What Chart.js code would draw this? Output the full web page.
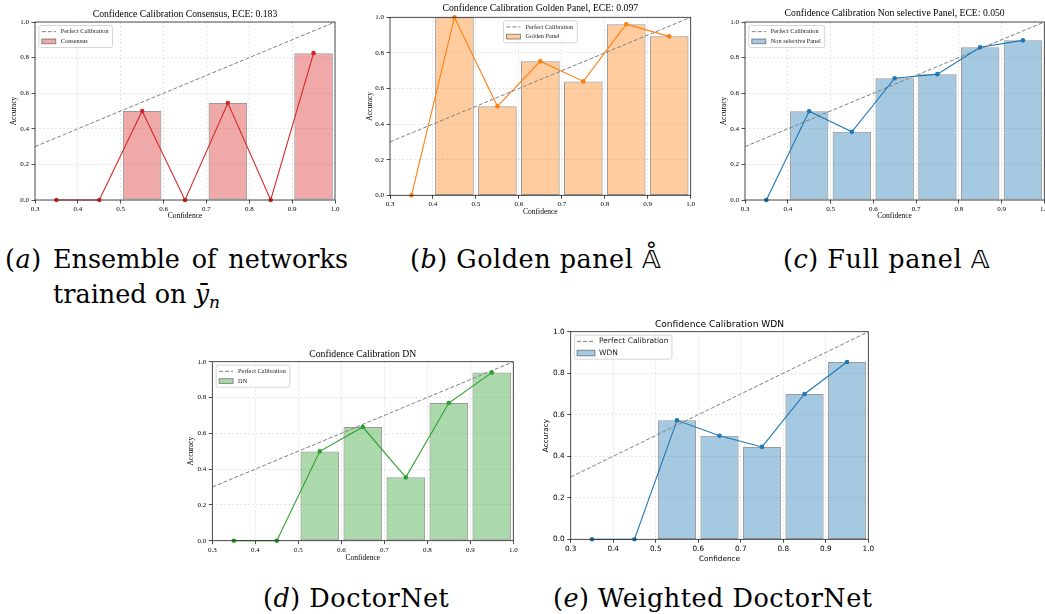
<!DOCTYPE html>
<html>
<head>
	<meta charset="utf-8">
	<title>Confidence Calibration</title>
	<script src="https://cdn.jsdelivr.net/npm/chart.js@4.4.1/dist/chart.umd.min.js"></script>
	<style type="text/css">
		html, body { margin: 0; padding: 0; background: #fff; overflow: hidden; }
		#page { position: relative; width: 1045px; height: 614px; overflow: hidden; }
		#page canvas { position: absolute; }
		.cap { position: absolute; font-family: "DejaVu Serif", "Liberation Serif", serif; font-size: 25.5px; letter-spacing: 0.5px; line-height: 35px; color: #000; white-space: nowrap; }
		.cap i { font-style: italic; }
		.wrap { white-space: normal; text-align: justify; letter-spacing: 0; }
		.cap sub { font-size: 17px; font-style: italic; line-height: 0; vertical-align: -5px; }
		.dbl { font-family: "DejaVu Sans", "DejaVu Serif", sans-serif; }
	</style>
</head>
<body>
	<div id="page">
		<div class="cap" style="left:5px;top:242px">(<i>a</i>)</div>
		<div class="cap wrap" style="left:53px;top:242px;width:295px">Ensemble of networks trained on <i>ȳ</i><sub>n</sub></div>
		<div class="cap" style="left:410px;top:242px">(<i>b</i>) Golden panel <span class="dbl">𝔸̊</span></div>
		<div class="cap" style="left:783px;top:242px">(<i>c</i>) Full panel <span class="dbl">𝔸</span></div>
		<div class="cap" style="left:263px;top:581px">(<i>d</i>) DoctorNet</div>
		<div class="cap" style="left:553px;top:581px">(<i>e</i>) Weighted DoctorNet</div>
	</div>

	<script type="text/javascript">
	// bin centres and axis ticks shared by every reliability diagram
	var bins = [0.35, 0.45, 0.55, 0.65, 0.75, 0.85, 0.95];
	var xTicks = [0.3, 0.4, 0.5, 0.6, 0.7, 0.8, 0.9, 1.0];
	var yTicks = [0.0, 0.2, 0.4, 0.6, 0.8, 1.0];
	var perfect = [0.3, 1.0];

	// accuracy per bin
	var accConsensus = [0, 0, 0.50, 0, 0.545, 0, 0.825];
	var accGolden = [0, 1.0, 0.50, 0.753, 0.64, 0.961, 0.893];
	var accNonSel = [0, 0.499, 0.383, 0.684, 0.707, 0.858, 0.897];
	var accDN = [0, 0, 0.499, 0.635, 0.354, 0.769, 0.939];
	var accWDN = [0, 0, 0.573, 0.499, 0.445, 0.70, 0.854];

	var names = ["Consensus", "Golden Panel", "Non selective Panel", "DN", "WDN"];
	var eces = ["0.183", "0.097", "0.050", null, null];

	var SERIF = "'Liberation Serif', 'Times New Roman', serif";
	var SANS = "'DejaVu Sans', sans-serif";

	// where each plot box sits on the page, plus fonts
	var panels = [
		{ acc: accConsensus, col: [214, 39, 40], x0: 35, y0: 22, x1: 335, y1: 200, tGap: 7.3, yGap: 21, xGap: 16.5, font: SERIF, tSize: 9.7, lSize: 7.5, kSize: 7, legend: "left" },
		{ acc: accGolden, col: [255, 127, 14], x0: 390, y0: 17.3, x1: 690.7, y1: 195.3, tGap: 8, yGap: 20, xGap: 16.7, font: SERIF, tSize: 9.7, lSize: 7.5, kSize: 7, legend: "center" },
		{ acc: accNonSel, col: [31, 119, 180], x0: 745, y0: 22, x1: 1044.3, y1: 200, tGap: 8, yGap: 20.7, xGap: 16.5, font: SERIF, tSize: 9.7, lSize: 7.5, kSize: 7, legend: "left" },
		{ acc: accDN, col: [44, 160, 44], x0: 212.3, y0: 361.7, x1: 513.3, y1: 540.7, tGap: 6.7, yGap: 20.6, xGap: 17.6, font: SERIF, tSize: 9.7, lSize: 7.5, kSize: 7, legend: "left" },
		{ acc: accWDN, col: [31, 119, 180], x0: 570.7, y0: 331.7, x1: 868.3, y1: 539.3, tGap: 7.7, yGap: 24.7, xGap: 19.7, font: SANS, tSize: 9.1, lSize: 7.3, kSize: 7.3, legend: "left" }
	];

	Chart.defaults.color = "#000";

	// matplotlib style spines on all four sides
	var frame = {
		id: "frame",
		afterDatasetsDraw: function (chart) {
			var a = chart.chartArea, ctx = chart.ctx;
			ctx.save();
			ctx.strokeStyle = "#222";
			ctx.lineWidth = 0.8;
			ctx.strokeRect(a.left, a.top, a.right - a.left, a.bottom - a.top);
			ctx.restore();
		}
	};

	// framed legend with a dashed line sample and a patch sample
	var legendBox = {
		id: "legendBox",
		afterDraw: function (chart, args, o) {
			var ctx = chart.ctx, a = chart.chartArea;
			ctx.save();
			ctx.font = o.size + "px " + o.family;
			var tw = Math.max(ctx.measureText(o.lineText).width, ctx.measureText(o.patchText).width);
			var w = o.pad + o.sample + o.gap + tw + o.pad + 1;
			var h = o.rowH * 2 + o.padY * 2;
			var x = o.pos === "center" ? (a.left + a.right) / 2 - w / 2 : a.left + 3.8;
			var y = a.top + 3.5;
			ctx.beginPath();
			ctx.roundRect(x, y, w, h, 2);
			ctx.fillStyle = "rgba(255,255,255,0.8)";
			ctx.fill();
			ctx.strokeStyle = "#ccc";
			ctx.lineWidth = 0.8;
			ctx.stroke();
			var r1 = y + o.padY + o.rowH / 2, r2 = r1 + o.rowH;
			var sx = x + o.pad;
			ctx.beginPath();
			ctx.setLineDash([4, 2]);
			ctx.strokeStyle = "#808080";
			ctx.lineWidth = 1;
			ctx.moveTo(sx, r1);
			ctx.lineTo(sx + o.sample, r1);
			ctx.stroke();
			ctx.setLineDash([]);
			var ph = o.size * 0.75;
			ctx.fillStyle = o.fill;
			ctx.fillRect(sx, r2 - ph / 2, o.sample, ph);
			ctx.strokeStyle = "rgba(0,0,0,0.4)";
			ctx.strokeRect(sx, r2 - ph / 2, o.sample, ph);
			ctx.fillStyle = "#222";
			ctx.textBaseline = "middle";
			ctx.fillText(o.lineText, sx + o.sample + o.gap, r1);
			ctx.fillText(o.patchText, sx + o.sample + o.gap, r2);
			ctx.restore();
		}
	};

	function makePanel(p, i) {
		var page = document.getElementById("page");
		var canvas = document.createElement("canvas");
		var LH = p.tSize * 1.2, LA = p.lSize * 1.2;
		var left = Math.round(p.x0 - p.yGap - LA / 2);
		var top = Math.round(p.y0 - 2 - p.tGap - LH / 2);
		var wy = p.x0 - left;
		var head = p.y0 - top;
		var W = Math.round(p.x1 - left + 8);
		var H = Math.round(p.y1 - top + p.xGap + LA / 2);
		var hx = H - (p.y1 - top);
		canvas.width = W;
		canvas.height = H;
		canvas.style.left = left + "px";
		canvas.style.top = top + "px";
		page.appendChild(canvas);

		var line = "rgb(" + p.col.join(",") + ")";
		var fill = "rgba(" + p.col.join(",") + ",0.4)";
		var pts = bins.map(function (b, k) { return { x: b, y: p.acc[k] }; });
		var diag = perfect.map(function (v) { return { x: v, y: v }; });
		var title = "Confidence Calibration " + names[i] + (eces[i] ? ", ECE: " + eces[i] : "");
		var grid = { color: "rgba(0,0,0,0.13)", lineWidth: 0.8, offset: false, tickColor: "#222", tickLength: 3.5, tickWidth: 0.8 };
		var border = { display: false, dash: [2, 2] };

		new Chart(canvas, {
			type: "bar",
			data: {
				datasets: [
					{ type: "line", label: names[i], data: pts, borderColor: line, backgroundColor: line, borderWidth: 1.1, pointRadius: 2.3, pointHoverRadius: 2.3, pointBorderWidth: 0, clip: false, order: 0 },
					{ type: "line", label: "Perfect Calibration", data: diag, borderColor: "#808080", borderDash: [4, 2], borderWidth: 1, pointRadius: 0, order: 1 },
					{ type: "bar", label: names[i], data: pts, backgroundColor: fill, borderColor: "rgba(0,0,0,0.4)", borderWidth: function (c) { return c.raw && c.raw.y > 0 ? 1 : 0; }, borderSkipped: false, categoryPercentage: 1, barPercentage: 0.9, order: 2 }
				]
			},
			options: {
				responsive: false,
				devicePixelRatio: 1,
				animation: false,
				events: [],
				layout: { padding: { left: 0, top: 0, bottom: 0, right: W - (p.x1 - left) } },
				plugins: {
					legend: { display: false },
					tooltip: { enabled: false },
					title: { display: true, fullSize: false, text: title, color: "#000", font: { family: p.font, size: p.tSize, weight: "normal" }, padding: { top: 2, bottom: head - 2 - LH } },
					legendBox: p.font === SANS
						? { family: p.font, size: 7.5, pad: 2.5, padY: 0.3, rowH: 11.7, sample: 18, gap: 4, pos: p.legend, lineText: "Perfect Calibration", patchText: names[i], fill: fill }
						: { family: p.font, size: 6.3, pad: 3, padY: 1.3, rowH: 9.7, sample: 14, gap: 5, pos: p.legend, lineText: "Perfect Calibration", patchText: names[i], fill: fill }
				},
				scales: {
					x: {
						type: "linear", min: 0.3, max: 1.0, offset: false,
						grid: grid,
						border: border,
						ticks: { font: { family: p.font, size: p.kSize }, padding: 1.5, maxRotation: 0, autoSkip: false, callback: function (v) { return v.toFixed(1); } },
						title: { display: true, text: "Confidence", font: { family: p.font, size: p.lSize }, padding: 0 },
						afterBuildTicks: function (s) { s.ticks = xTicks.map(function (v) { return { value: v }; }); },
						afterFit: function (s) { s.height = hx; }
					},
					y: {
						min: 0, max: 1,
						grid: grid,
						border: border,
						ticks: { font: { family: p.font, size: p.kSize }, padding: 2.5, callback: function (v) { return v.toFixed(1); } },
						title: { display: true, text: "Accuracy", font: { family: p.font, size: p.lSize }, padding: 0 },
						afterBuildTicks: function (s) { s.ticks = yTicks.map(function (v) { return { value: v }; }); },
						afterFit: function (s) { s.width = wy; }
					}
				}
			},
			plugins: [frame, legendBox]
		});
	}

	panels.forEach(makePanel);
	</script>
</body>
</html>
